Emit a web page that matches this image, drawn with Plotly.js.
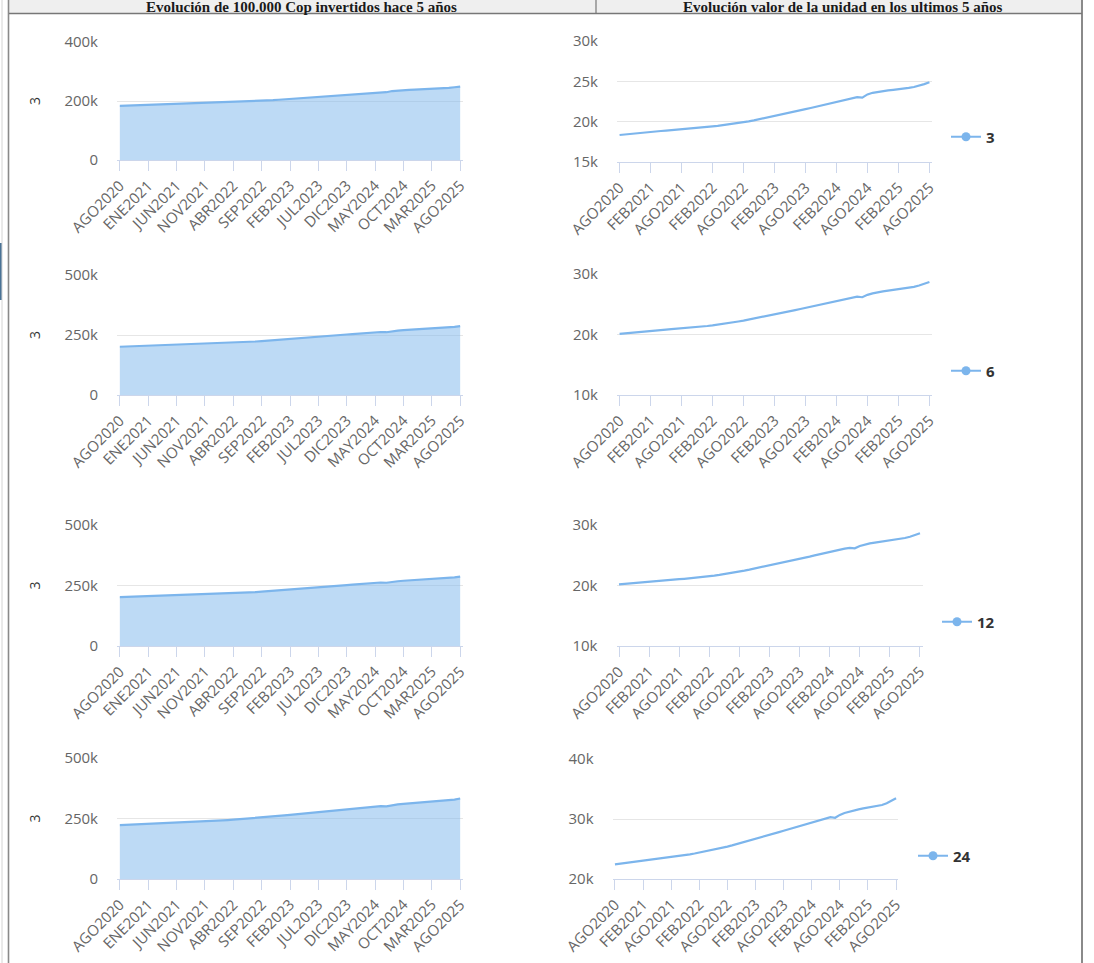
<!DOCTYPE html>
<html>
<head>
<meta charset="utf-8">
<script src="https://cdn.plot.ly/plotly-3.0.1.min.js"></script>
<style>
html,body{margin:0;padding:0;background:#ffffff;}
#chart{width:1094px;height:963px;}
</style>
</head>
<body>
<div id="chart"></div>
<script>
// ---------- DATA ----------
const MESES = ['ENE','FEB','MAR','ABR','MAY','JUN','JUL','AGO','SEP','OCT','NOV','DIC'];
const categorias = [];
for (let i = 0; i < 61; i++) {
  const m = (7 + i) % 12;
  const a = 2020 + Math.floor((7 + i) / 12);
  categorias.push(MESES[m] + a);
}
const ticksIzq = ['AGO2020','ENE2021','JUN2021','NOV2021','ABR2022','SEP2022','FEB2023','JUL2023','DIC2023','MAY2024','OCT2024','MAR2025','AGO2025'];
const ticksDer = ['AGO2020','FEB2021','AGO2021','FEB2022','AGO2022','FEB2023','AGO2023','FEB2024','AGO2024','FEB2025','AGO2025'];

const titulosColumnas = ['Evolución de 100.000 Cop invertidos hace 5 años', 'Evolución valor de la unidad en los ultimos 5 años'];
const nombresSeries = ['3', '6', '12', '24'];

const inversion3 = [183500,184200,184800,185500,186100,186800,187400,187900,188400,188900,189400,189900,190400,190900,191500,192100,192700,193400,194100,194800,195600,196400,197300,198200,199200,200400,201600,202900,204200,205600,207000,208400,209800,211200,212600,214000,215500,217000,218600,220200,221800,223400,225000,226500,227900,229300,230500,229800,233800,235800,237000,237900,238700,239400,240000,240800,241800,243000,244600,246600,248800];
const unidad3 = [18350,18420,18480,18550,18610,18680,18740,18790,18840,18890,18940,18990,19040,19090,19150,19210,19270,19340,19410,19480,19560,19640,19730,19820,19920,20040,20160,20290,20420,20560,20700,20840,20980,21120,21260,21400,21550,21700,21860,22020,22180,22340,22500,22650,22790,22930,23050,22980,23380,23580,23700,23790,23870,23940,24000,24080,24180,24300,24460,24660,24880];

const inversion6 = [201000,201900,202800,203700,204500,205400,206300,207000,207600,208200,208800,209400,210000,210700,211500,212300,213100,214000,215000,216100,217300,218600,220000,221500,223000,224600,226200,227900,229600,231300,233000,234800,236600,238400,240200,242100,244000,246000,248000,250000,252000,254000,256000,257800,259500,261100,262500,261600,265500,268000,269900,271200,272400,273600,274800,275900,277200,278800,280900,283600,286800];
const unidad6 = [20100,20190,20280,20370,20450,20540,20630,20700,20760,20820,20880,20940,21000,21070,21150,21230,21310,21400,21500,21610,21730,21860,22000,22150,22300,22460,22620,22790,22960,23130,23300,23480,23660,23840,24020,24210,24400,24600,24800,25000,25200,25400,25600,25780,25950,26110,26250,26160,26550,26800,26990,27120,27240,27360,27480,27590,27720,27880,28090,28360,28680];

const inversion12 = [202000,202800,203600,204400,205200,206000,206800,207400,208000,208600,209200,209800,210400,211100,211800,212600,213400,214300,215300,216400,217600,218800,220100,221500,223000,224600,226200,227900,229600,231300,233000,234800,236600,238400,240200,242000,243900,245800,247800,249800,251800,253800,255800,257600,259300,260900,262300,261400,265200,267700,269600,270900,272100,273300,274500,275600,276900,278500,280600,283300,286500];
const unidad12 = [20200,20280,20360,20440,20520,20600,20680,20740,20800,20860,20920,20980,21040,21110,21180,21260,21340,21430,21530,21640,21760,21880,22010,22150,22300,22460,22620,22790,22960,23130,23300,23480,23660,23840,24020,24200,24390,24580,24780,24980,25180,25380,25580,25760,25930,26090,26230,26140,26520,26770,26960,27090,27210,27330,27450,27560,27690,27850,28060,28330,28650];

const inversion24 = [222500,223500,224500,225600,226600,227600,228500,229400,230300,231200,232100,233000,234000,235200,236500,237800,239100,240500,242000,243600,245200,246800,248500,250200,252000,254000,256100,258300,260500,262700,265000,267200,269400,271700,273900,276200,278500,280700,283000,285200,287500,289700,292000,294400,296700,298900,301000,300100,304800,308000,310300,312200,314000,315600,317000,318300,319700,321400,324200,327900,332500];
const unidad24 = [22450,22550,22650,22760,22860,22960,23050,23140,23230,23320,23410,23500,23600,23720,23850,23980,24110,24250,24400,24560,24720,24880,25050,25220,25400,25600,25810,26030,26250,26470,26700,26920,27140,27370,27590,27820,28050,28270,28500,28720,28950,29170,29400,29640,29870,30090,30300,30210,30680,31000,31230,31420,31600,31760,31900,32030,32170,32340,32620,32990,33450];

const rangosIzq = [[0,400000],[0,500000],[0,500000],[0,500000]];
const dticksIzq = [200000,250000,250000,250000];
const rangosDer = [[15000,30000],[10000,30000],[10000,30000],[20000,40000]];
const dticksDer = [5000,10000,10000,10000];

const seriesIzq = [inversion3, inversion6, inversion12, inversion24];
const seriesDer = [unidad3, unidad6, unidad12, unidad24];

// ---------- LAYOUT ----------
const W = 1094, H = 963;
const px = v => v / W;
const py = v => 1 - v / H;

const FONT = 'Open Sans, Arial, sans-serif';
const AZUL = '#7cb5ec';
const GRIS_TXT = '#666666';

const geoIzq = [
  {x:[117,463], y:[42,160]},
  {x:[117,463], y:[275,395]},
  {x:[117,463], y:[525,646]},
  {x:[117,463], y:[758,879]}
];
const geoDer = [
  {x:[617,932], y:[41,162]},
  {x:[617,932], y:[274,395]},
  {x:[616.5,922.5], y:[525,646]},
  {x:[612.6,898.4], y:[759,879]}
];
const legendPos = [
  {x:946, y:137},
  {x:946, y:371},
  {x:937, y:622},
  {x:913, y:856}
];

const data = [];
const layout = {
  width: W, height: H,
  margin: {l:0, r:0, t:0, b:0},
  paper_bgcolor: '#ffffff',
  plot_bgcolor: 'rgba(0,0,0,0)',
  font: {family: FONT, color: GRIS_TXT, size: 15},
  hovermode: false,
  shapes: [],
  annotations: []
};

function xAxisDef(dom, ticks) {
  return {
    type: 'category',
    categoryorder: 'array',
    categoryarray: categorias,
    domain: [px(dom[0]), px(dom[1])],
    range: [-0.5, 60.5],
    tickmode: 'array',
    tickvals: ticks,
    ticktext: ticks,
    tickangle: -45,
    ticks: 'outside',
    ticklen: 10,
    tickwidth: 1,
    tickcolor: '#ccd6eb',
    showline: true,
    linecolor: '#ccd6eb',
    linewidth: 1,
    showgrid: false,
    zeroline: false,
    fixedrange: true,
    tickfont: {family: FONT, size: 15, color: GRIS_TXT},
    automargin: false
  };
}
function yAxisDef(dom, rango, dt, anchor) {
  return {
    domain: [py(dom[1]), py(dom[0])],
    range: rango,
    tick0: 0,
    dtick: dt,
    tickformat: '~s',
    showgrid: true,
    gridcolor: '#e6e6e6',
    gridwidth: 1,
    zeroline: false,
    showline: false,
    ticks: '',
    ticklabelstandoff: 18,
    fixedrange: true,
    tickfont: {family: FONT, size: 15, color: GRIS_TXT},
    automargin: false,
    anchor: anchor
  };
}

for (let r = 0; r < 4; r++) {
  const iL = 2 * r + 1, iR = 2 * r + 2;
  const xL = 'x' + (iL === 1 ? '' : iL), yL = 'y' + (iL === 1 ? '' : iL);
  const xR = 'x' + iR, yR = 'y' + iR;
  const kxL = 'xaxis' + (iL === 1 ? '' : iL), kyL = 'yaxis' + (iL === 1 ? '' : iL);
  const kxR = 'xaxis' + iR, kyR = 'yaxis' + iR;

  layout[kxL] = Object.assign(xAxisDef(geoIzq[r].x, ticksIzq), {anchor: yL});
  layout[kyL] = yAxisDef(geoIzq[r].y, rangosIzq[r], dticksIzq[r], xL);
  layout[kyL].title = {text: nombresSeries[0], font: {family: FONT, size: 14, color: '#333333'}, standoff: 20};

  layout[kxR] = Object.assign(xAxisDef(geoDer[r].x, ticksDer), {anchor: yR});
  layout[kyR] = yAxisDef(geoDer[r].y, rangosDer[r], dticksDer[r], xR);

  const legKey = 'legend' + (r === 0 ? '' : (r + 1));
  layout[legKey] = {
    x: px(legendPos[r].x), y: py(legendPos[r].y),
    xanchor: 'left', yanchor: 'middle',
    bgcolor: 'rgba(0,0,0,0)', borderwidth: 0,
    font: {family: FONT, size: 15, color: '#333333', weight: 700},
    itemclick: false, itemdoubleclick: false
  };

  data.push({
    x: categorias, y: seriesIzq[r], xaxis: xL, yaxis: yL,
    type: 'scatter', mode: 'lines', fill: 'tozeroy',
    fillcolor: 'rgba(124,181,236,0.5)',
    line: {color: AZUL, width: 2.2},
    showlegend: false, cliponaxis: true
  });
  data.push({
    x: categorias, y: seriesDer[r], xaxis: xR, yaxis: yR,
    type: 'scatter', mode: 'lines',
    line: {color: AZUL, width: 2.2},
    showlegend: false
  });
  data.push({
    x: [null], y: [null], xaxis: xR, yaxis: yR,
    type: 'scatter', mode: 'lines+markers',
    name: nombresSeries[r],
    line: {color: AZUL, width: 2},
    marker: {color: AZUL, size: 9, symbol: 'circle'},
    showlegend: true,
    legend: legKey
  });
}

// header and frame
const S = layout.shapes;
const pr = (x0,y0,x1,y1,fill) => ({type:'rect', xref:'paper', yref:'paper', x0:px(x0), x1:px(x1), y0:py(y1), y1:py(y0), fillcolor:fill, line:{width:0}, layer:'below'});
const pl = (x0,y0,x1,y1,col,w) => ({type:'line', xref:'paper', yref:'paper', x0:px(x0), x1:px(x1), y0:py(y0), y1:py(y1), line:{color:col, width:w}, layer:'above'});
S.push(pr(9, 0, 1082, 13.5, '#efefef'));
S.push(pr(0, 243, 2, 300, '#4a7396'));
S.push(pl(2, 0, 2, 963, '#d4d4d4', 1));
S.push(pl(8.5, 0, 8.5, 963, '#8a8a8a', 1.6));
S.push(pl(1082, 0, 1082, 963, '#8a8a8a', 2));
S.push(pl(9, 13.5, 1082, 13.5, '#777777', 1.6));
S.push(pl(596, 0, 596, 13.5, '#777777', 1.2));

const centrosHeader = [301, 843];
for (let c = 0; c < 2; c++) {
  layout.annotations.push({
    xref: 'paper', yref: 'paper',
    x: px(centrosHeader[c]), y: py(-2),
    xanchor: 'center', yanchor: 'top',
    text: titulosColumnas[c],
    showarrow: false,
    borderpad: 0,
    font: {family: 'Liberation Serif, serif', size: 15, color: '#1a1a1a', weight: 700}
  });
}

Plotly.newPlot('chart', data, layout, {displayModeBar: false, staticPlot: true});
</script>
</body>
</html>
